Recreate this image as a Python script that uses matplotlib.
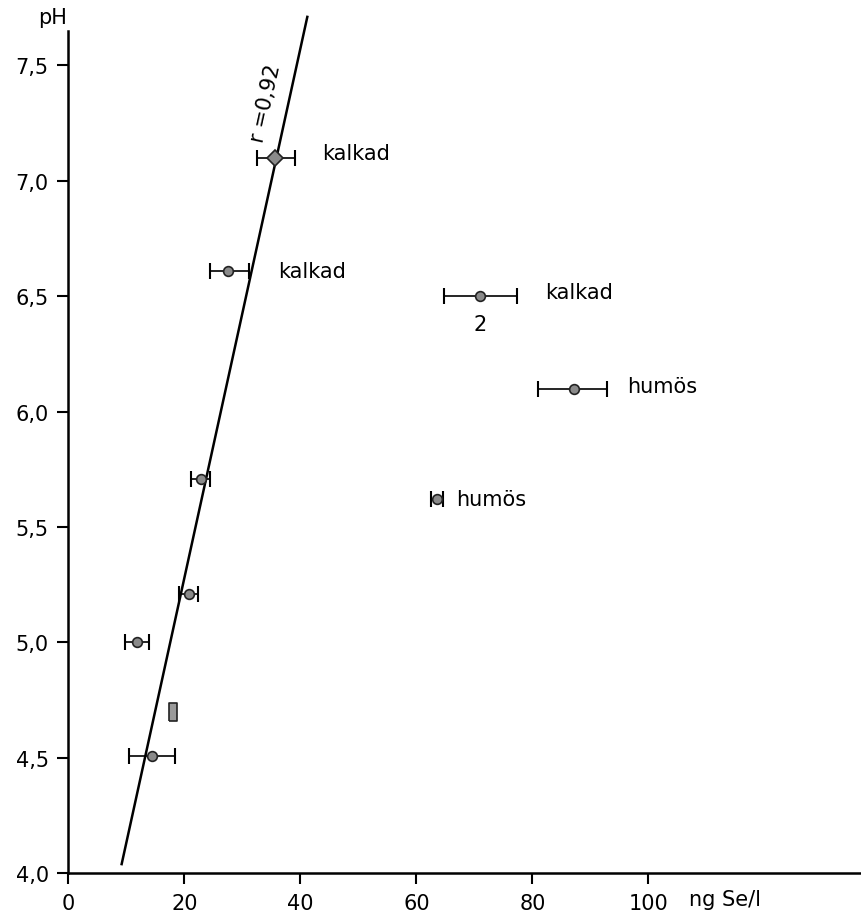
import matplotlib.pyplot as plt
from matplotlib.ticker import FixedLocator

plt.rcParams['font.family'] = ['DejaVu Sans']

# Se concentration (ng Se/l) and pH, with horizontal error limits
se = [35.7, 27.6, 71.0, 87.1, 63.5, 22.8, 20.8, 11.8, 14.4]
ph = [7.10, 6.61, 6.50, 6.10, 5.62, 5.71, 5.21, 5.00, 4.51]
se_lo = [32.5, 24.4, 64.8, 81.0, 62.5, 21.2, 19.1, 9.8, 10.5]
se_hi = [39.1, 31.1, 77.3, 92.8, 64.5, 24.4, 22.3, 13.9, 18.4]

# odd rectangular marker
rect_se = 18.1
rect_ph = 4.70

# regression line end points
line_se = [9.2, 41.2]
line_ph = [4.04, 7.71]

labels = ["kalkad", "kalkad", "kalkad", "humös", "humös"]
label_se = [43.7, 36.2, 82.2, 96.3, 66.8]
label_ph = [7.12, 6.61, 6.52, 6.11, 5.62]

xticks = [0, 20, 40, 60, 80, 100]
yticks = [4.0, 4.5, 5.0, 5.5, 6.0, 6.5, 7.0, 7.5]

fig = plt.figure(figsize=(8.62, 9.12), dpi=100)
ax = fig.add_axes([0.0792, 0.0413, 0.9208, 0.9239])

ax.plot(line_se, line_ph, color="black", lw=1.8, zorder=2, clip_on=False)

xerr = [[s - l for s, l in zip(se, se_lo)], [h - s for s, h in zip(se, se_hi)]]
ax.errorbar(se, ph, xerr=xerr, fmt="none", ecolor="black", elinewidth=1.2,
            capsize=6, capthick=1.5, zorder=3)
ax.plot(se[1:], ph[1:], "o", ms=7, mfc="#8a8a8a", mec="#222222", mew=1.2, zorder=4)
ax.plot(se[:1], ph[:1], "D", ms=8, mfc="#8a8a8a", mec="#222222", mew=1.2, zorder=4)

rect = [(-0.4, -1), (0.4, -1), (0.4, 1), (-0.4, 1), (-0.4, -1)]
ax.plot([rect_se], [rect_ph], marker=rect, ms=13, mfc="#9a9a9a", mec="#222222",
        mew=1.2, ls="none", zorder=4)

for t, x, y in zip(labels, label_se, label_ph):
    ax.text(x, y, t, fontsize=15, ha="left", va="center")
ax.text(71.0, 6.38, "2", fontsize=15, ha="center", va="center")
ax.text(34.0, 7.34, "r =0,92", fontsize=15, rotation=77.5,
        ha="center", va="center", rotation_mode="anchor")

ax.set_xlim(0, 136.8)
ax.set_ylim(4.0, 7.65)
ax.xaxis.set_major_locator(FixedLocator(xticks))
ax.yaxis.set_major_locator(FixedLocator(yticks))
ax.set_xticklabels([str(v) for v in xticks])
ax.set_yticklabels([f"{v:.1f}".replace(".", ",") for v in yticks])
ax.tick_params(labelsize=15, width=1.5, length=8, direction="out", pad=6)

for s in ["top", "right"]:
    ax.spines[s].set_visible(False)
for s in ["left", "bottom"]:
    ax.spines[s].set_linewidth(1.8)

ax.text(-0.02, 1.005, "pH", transform=ax.transAxes, fontsize=15,
        ha="center", va="bottom")
ax.text(107, 3.93, "ng Se/l", fontsize=15, ha="left", va="top", clip_on=False)

fig.savefig("out.png", dpi=100)
